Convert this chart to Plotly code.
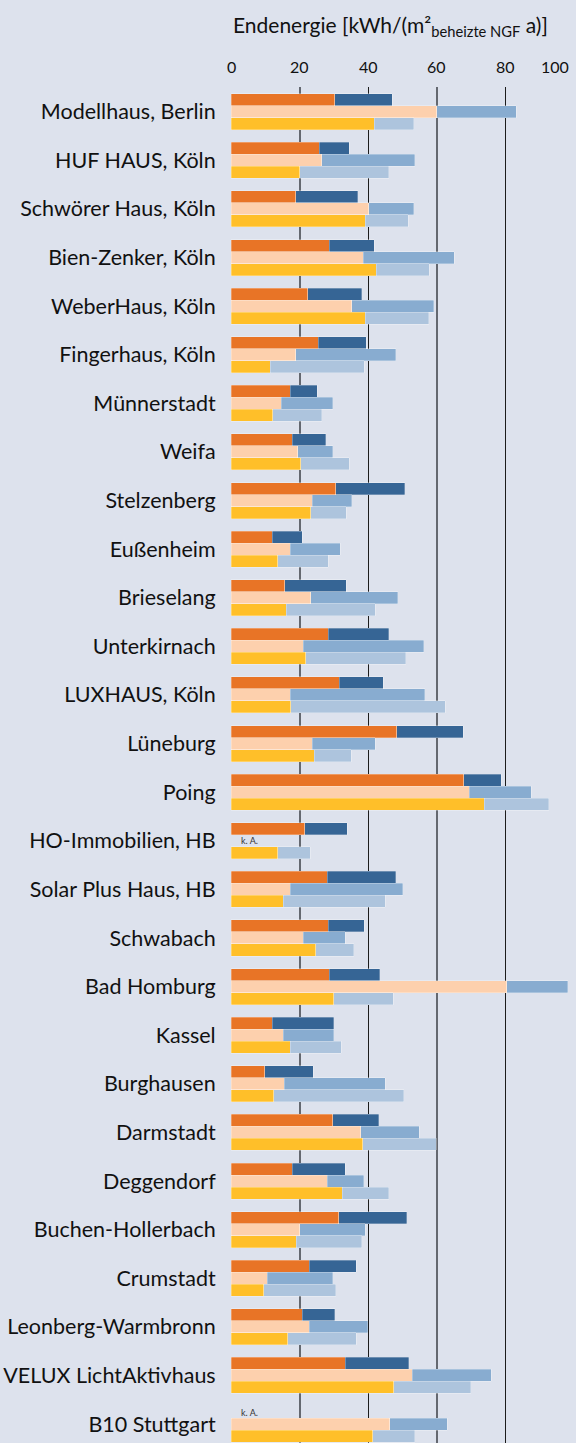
import plotly.graph_objects as go

names = ["Modellhaus, Berlin", "HUF HAUS, Köln", "Schwörer Haus, Köln", "Bien-Zenker, Köln",
         "WeberHaus, Köln", "Fingerhaus, Köln", "Münnerstadt", "Weifa", "Stelzenberg",
         "Eußenheim", "Brieselang", "Unterkirnach", "LUXHAUS, Köln", "Lüneburg", "Poing",
         "HO-Immobilien, HB", "Solar Plus Haus, HB", "Schwabach", "Bad Homburg", "Kassel",
         "Burghausen", "Darmstadt", "Deggendorf", "Buchen-Hollerbach", "Crumstadt",
         "Leonberg-Warmbronn", "VELUX LichtAktivhaus", "B10 Stuttgart"]

# row 1: orange + dark blue
row1_a = [30.3, 25.8, 18.9, 28.7, 22.4, 25.4, 17.2, 17.9, 30.6, 12.0, 15.6, 28.4, 31.6, 48.3,
          67.8, 21.5, 28.0, 28.4, 28.7, 12.0, 9.9, 29.7, 17.9, 31.4, 22.8, 20.8, 33.3, None]
row1_b = [16.7, 8.7, 18.0, 13.1, 15.7, 14.1, 7.9, 9.7, 20.1, 8.7, 18.0, 17.6, 12.8, 19.4,
          11.0, 12.4, 20.1, 10.4, 14.7, 18.0, 14.1, 13.4, 15.4, 19.9, 13.7, 9.5, 18.5, None]
# row 2: peach + medium blue
row2_a = [60.0, 26.4, 40.1, 38.5, 35.2, 18.9, 14.6, 19.5, 23.7, 17.2, 23.2, 21.1, 17.2, 23.7,
          69.4, None, 17.2, 21.1, 80.4, 15.2, 15.5, 37.8, 28.0, 20.1, 10.6, 22.8, 52.9, 46.3]
row2_b = [23.1, 27.2, 13.2, 26.6, 23.9, 29.2, 15.0, 10.1, 11.5, 14.7, 25.4, 35.1, 39.3, 18.3,
          18.2, None, 32.8, 12.2, 17.8, 14.8, 29.5, 17.1, 10.7, 19.1, 19.0, 17.0, 23.0, 16.7]
# row 3: yellow + light blue
row3_a = [41.7, 20.1, 39.1, 42.4, 39.1, 11.5, 12.2, 20.4, 23.3, 13.6, 16.1, 21.8, 17.4, 24.3,
          73.9, 13.6, 15.2, 24.7, 30.0, 17.2, 12.5, 38.4, 32.4, 19.0, 9.6, 16.5, 47.4, 41.3]
row3_b = [11.6, 25.9, 12.6, 15.4, 18.5, 27.3, 14.2, 14.1, 10.3, 14.7, 25.9, 29.1, 45.0, 10.8,
          18.7, 9.5, 29.8, 11.1, 17.3, 15.0, 37.8, 21.4, 13.6, 19.1, 20.9, 20.0, 22.5, 12.3]

x_ticks = [0, 20, 40, 60, 80, 100]
no_data_label = "k. A."

BG = "#DDE2ED"
FONT = "Lato"
ROW = 0.247

idx = list(range(len(names)))
rows = [
    ([i - ROW for i in idx], row1_a, row1_b, "#E87426", "#366595"),
    (idx, row2_a, row2_b, "#FDD0AD", "#88ACD0"),
    ([i + ROW for i in idx], row3_a, row3_b, "#FFBF29", "#ADC4DD"),
]

fig = go.Figure()
for ys, a, b, ca, cb in rows:
    for vals, col in ((a, ca), (b, cb)):
        fig.add_trace(go.Bar(
            y=ys, x=vals, orientation="h", width=ROW,
            marker=dict(color=col, line=dict(color="rgba(255,255,255,0.35)", width=0.8)),
            showlegend=False, hoverinfo="x",
        ))

annotations = []
# "k. A." markers for missing rows
for ys, a, b, ca, cb in rows:
    for i, v in enumerate(a):
        if v is None:
            annotations.append(dict(x=2.3, y=ys[i], xref="x", yref="y", text=no_data_label,
                                    showarrow=False, xanchor="left", yanchor="middle",
                                    font=dict(family=FONT, size=9, color="#333333")))

# top tick labels
for t in x_ticks:
    last = t == x_ticks[-1]
    annotations.append(dict(x=t, y=1, xref="x", yref="paper", text=str(t), showarrow=False,
                            xanchor="right" if last else "center", yanchor="middle",
                            xshift=-3 if last else 0, yshift=21,
                            font=dict(family=FONT, size=16, color="#111111")))

# axis title
annotations.append(dict(x=0.465, y=1, xref="paper", yref="paper",
                        text="Endenergie [kWh/(m²<sub>beheizte NGF</sub> a)]",
                        showarrow=False, xanchor="center", yanchor="middle", yshift=61,
                        font=dict(family=FONT, size=21, color="#111111")))

fig.update_layout(
    width=576, height=1443,
    margin=dict(l=231, r=2, t=87, b=0, autoexpand=False),
    paper_bgcolor=BG, plot_bgcolor=BG,
    barmode="stack",
    font=dict(family=FONT, color="#111111"),
    annotations=annotations,
    xaxis=dict(range=[0, 100], side="top", showticklabels=False, zeroline=False,
               automargin=False,
               dtick=40, tick0=0, showgrid=True, gridcolor="#1c1c1c", gridwidth=1.3,
               minor=dict(dtick=20, tick0=0, showgrid=True, gridcolor="#646870", gridwidth=1.6),
               fixedrange=True),
    yaxis=dict(range=[27.39, -0.508], tickvals=idx, ticktext=names, showgrid=False,
               automargin=False, fixedrange=True,
               zeroline=False, ticks="outside", ticklen=10, tickcolor="rgba(0,0,0,0)",
               tickfont=dict(family=FONT, size=21.5, color="#111111")),
)

fig.write_html(
    "out.html",
    config={"displayModeBar": False},
    post_script="document.body.style.margin='0';document.body.style.background='%s';"
                "document.body.style.overflow='hidden';" % BG,
)
